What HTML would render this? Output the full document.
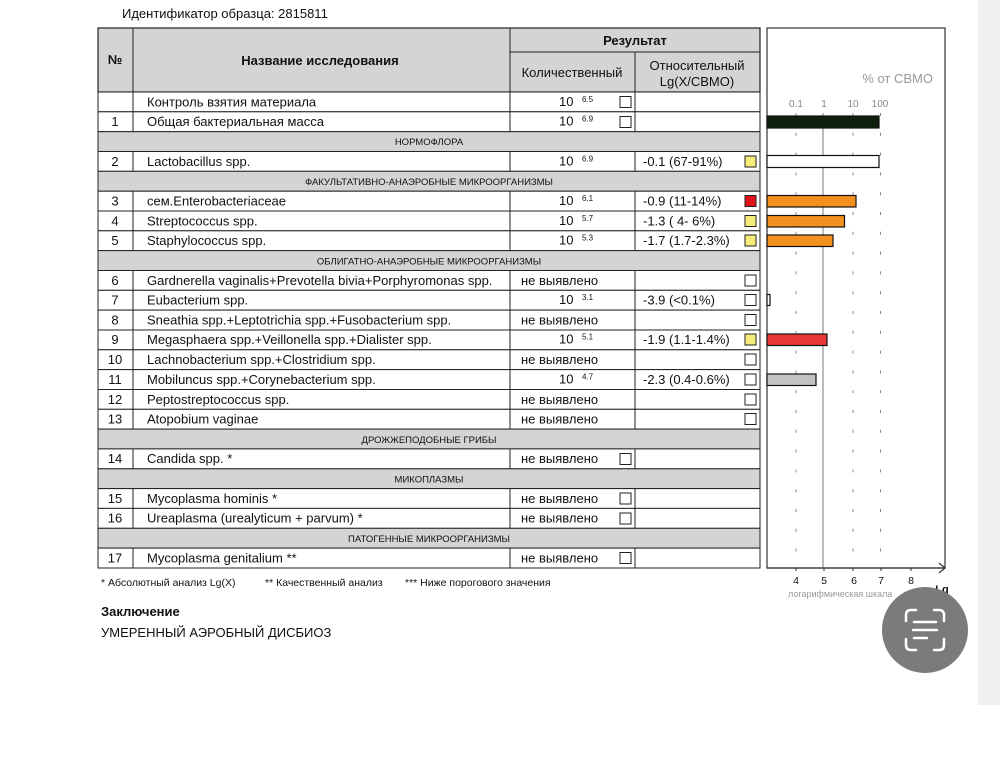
<!DOCTYPE html>
<html><head><meta charset="utf-8"><style>
html,body{margin:0;padding:0;background:#fff;width:1000px;height:757px;overflow:hidden}
svg{display:block}
text{font-family:"Liberation Sans",sans-serif;fill:#111}
.t{font-size:13px}
.s{font-size:9.5px;text-anchor:middle}
.p{font-size:8px}
.c{text-anchor:middle}
</style></head><body>
<svg width="1000" height="757" viewBox="0 0 1000 757" xmlns="http://www.w3.org/2000/svg">
<rect x="978" y="0" width="22" height="705" fill="#efeff2"/>
<text x="122" y="18" class="t">Идентификатор образца: 2815811</text>
<rect x="98" y="28" width="662" height="64" fill="#d4d4d4" stroke="#222" stroke-width="1.2"/>
<line x1="133" y1="28" x2="133" y2="92" stroke="#222"/>
<line x1="510" y1="28" x2="510" y2="92" stroke="#222"/>
<line x1="510" y1="52" x2="760" y2="52" stroke="#222"/>
<line x1="635" y1="52" x2="635" y2="92" stroke="#222"/>
<text x="115" y="64" class="t c" font-weight="bold">№</text>
<text x="320" y="65" class="t c" font-weight="bold">Название исследования</text>
<text x="635" y="45" class="t c" font-weight="bold">Результат</text>
<text x="572" y="77" class="t c">Количественный</text>
<text x="697" y="70" class="t c">Относительный</text>
<text x="697" y="86" class="t c">Lg(X/СВМО)</text>

<g stroke="#222" stroke-width="1" fill="#fff">
<rect x="98" y="92" width="662" height="19.8"/>
<rect x="98" y="111.8" width="662" height="19.9"/>
<rect x="98" y="131.7" width="662" height="19.8" fill="#d4d4d4"/>
<rect x="98" y="151.5" width="662" height="19.8"/>
<rect x="98" y="171.3" width="662" height="19.9" fill="#d4d4d4"/>
<rect x="98" y="191.2" width="662" height="19.8"/>
<rect x="98" y="211" width="662" height="19.8"/>
<rect x="98" y="230.8" width="662" height="19.8"/>
<rect x="98" y="250.6" width="662" height="19.9" fill="#d4d4d4"/>
<rect x="98" y="270.5" width="662" height="19.8"/>
<rect x="98" y="290.3" width="662" height="19.8"/>
<rect x="98" y="310.1" width="662" height="19.9"/>
<rect x="98" y="330" width="662" height="19.8"/>
<rect x="98" y="349.8" width="662" height="19.8"/>
<rect x="98" y="369.6" width="662" height="19.9"/>
<rect x="98" y="389.5" width="662" height="19.8"/>
<rect x="98" y="409.3" width="662" height="19.8"/>
<rect x="98" y="429.1" width="662" height="19.8" fill="#d4d4d4"/>
<rect x="98" y="448.9" width="662" height="19.9"/>
<rect x="98" y="468.8" width="662" height="19.8" fill="#d4d4d4"/>
<rect x="98" y="488.6" width="662" height="19.8"/>
<rect x="98" y="508.4" width="662" height="19.9"/>
<rect x="98" y="528.3" width="662" height="19.8" fill="#d4d4d4"/>
<rect x="98" y="548.1" width="662" height="19.9"/>
</g>
<g stroke="#222" stroke-width="1">
<path d="M133 92V131.7M510 92V131.7M635 92V131.7
M133 151.5V171.3M510 151.5V171.3M635 151.5V171.3
M133 191.2V250.6M510 191.2V250.6M635 191.2V250.6
M133 270.5V429.1M510 270.5V429.1M635 270.5V429.1
M133 448.9V468.8M510 448.9V468.8M635 448.9V468.8
M133 488.6V528.3M510 488.6V528.3M635 488.6V528.3
M133 548.1V568M510 548.1V568M635 548.1V568"/>
</g>

<text x="115" y="126" class="t c">1</text>
<text x="115" y="166" class="t c">2</text>
<text x="115" y="205.5" class="t c">3</text>
<text x="115" y="225.5" class="t c">4</text>
<text x="115" y="245" class="t c">5</text>
<text x="115" y="285" class="t c">6</text>
<text x="115" y="304.5" class="t c">7</text>
<text x="115" y="324.5" class="t c">8</text>
<text x="115" y="344" class="t c">9</text>
<text x="115" y="364" class="t c">10</text>
<text x="115" y="384" class="t c">11</text>
<text x="115" y="404" class="t c">12</text>
<text x="115" y="423.5" class="t c">13</text>
<text x="115" y="463" class="t c">14</text>
<text x="115" y="503" class="t c">15</text>
<text x="115" y="522.5" class="t c">16</text>
<text x="115" y="562.5" class="t c">17</text>

<text x="147" y="106.5" class="t">Контроль взятия материала</text>
<text x="147" y="126" class="t">Общая бактериальная масса</text>
<text x="147" y="166" class="t">Lactobacillus spp.</text>
<text x="147" y="205.5" class="t">сем.Enterobacteriaceae</text>
<text x="147" y="225.5" class="t">Streptococcus spp.</text>
<text x="147" y="245" class="t">Staphylococcus spp.</text>
<text x="147" y="285" class="t">Gardnerella vaginalis+Prevotella bivia+Porphyromonas spp.</text>
<text x="147" y="304.5" class="t">Eubacterium spp.</text>
<text x="147" y="324.5" class="t">Sneathia spp.+Leptotrichia spp.+Fusobacterium spp.</text>
<text x="147" y="344" class="t">Megasphaera spp.+Veillonella spp.+Dialister spp.</text>
<text x="147" y="364" class="t">Lachnobacterium spp.+Clostridium spp.</text>
<text x="147" y="384" class="t">Mobiluncus spp.+Corynebacterium spp.</text>
<text x="147" y="404" class="t">Peptostreptococcus spp.</text>
<text x="147" y="423.5" class="t">Atopobium vaginae</text>
<text x="147" y="463" class="t">Candida spp. *</text>
<text x="147" y="503" class="t">Mycoplasma hominis *</text>
<text x="147" y="522.5" class="t">Ureaplasma (urealyticum + parvum) *</text>
<text x="147" y="562.5" class="t">Mycoplasma genitalium **</text>

<text x="429" y="145" class="s">НОРМОФЛОРА</text>
<text x="429" y="185" class="s">ФАКУЛЬТАТИВНО-АНАЭРОБНЫЕ МИКРООРГАНИЗМЫ</text>
<text x="429" y="264.5" class="s">ОБЛИГАТНО-АНАЭРОБНЫЕ МИКРООРГАНИЗМЫ</text>
<text x="429" y="443" class="s">ДРОЖЖЕПОДОБНЫЕ ГРИБЫ</text>
<text x="429" y="482.5" class="s">МИКОПЛАЗМЫ</text>
<text x="429" y="542" class="s">ПАТОГЕННЫЕ МИКРООРГАНИЗМЫ</text>

<text x="559" y="106" class="t">10</text><text x="582" y="102" class="p">6.5</text>
<text x="559" y="125.5" class="t">10</text><text x="582" y="121.5" class="p">6.9</text>
<text x="559" y="165.5" class="t">10</text><text x="582" y="161.5" class="p">6.9</text>
<text x="559" y="205" class="t">10</text><text x="582" y="201" class="p">6.1</text>
<text x="559" y="225" class="t">10</text><text x="582" y="221" class="p">5.7</text>
<text x="559" y="244.5" class="t">10</text><text x="582" y="240.5" class="p">5.3</text>
<text x="521" y="285" class="t">не выявлено</text>
<text x="559" y="304" class="t">10</text><text x="582" y="300" class="p">3.1</text>
<text x="521" y="324.5" class="t">не выявлено</text>
<text x="559" y="343.5" class="t">10</text><text x="582" y="339.5" class="p">5.1</text>
<text x="521" y="364" class="t">не выявлено</text>
<text x="559" y="383.5" class="t">10</text><text x="582" y="379.5" class="p">4.7</text>
<text x="521" y="404" class="t">не выявлено</text>
<text x="521" y="423.5" class="t">не выявлено</text>
<text x="521" y="463" class="t">не выявлено</text>
<text x="521" y="503" class="t">не выявлено</text>
<text x="521" y="522.5" class="t">не выявлено</text>
<text x="521" y="562.5" class="t">не выявлено</text>

<text x="643" y="166" class="t">-0.1 (67-91%)</text>
<text x="643" y="205.5" class="t">-0.9 (11-14%)</text>
<text x="643" y="225.5" class="t">-1.3 ( 4- 6%)</text>
<text x="643" y="245" class="t">-1.7 (1.7-2.3%)</text>
<text x="643" y="304.5" class="t">-3.9 (&lt;0.1%)</text>
<text x="643" y="344" class="t">-1.9 (1.1-1.4%)</text>
<text x="643" y="384" class="t">-2.3 (0.4-0.6%)</text>

<g stroke="#222" stroke-width="1" fill="#fff">
<rect x="620" y="96.5" width="11" height="11"/>
<rect x="620" y="116.5" width="11" height="11"/>
<rect x="620" y="453.5" width="11" height="11"/>
<rect x="620" y="493" width="11" height="11"/>
<rect x="620" y="513" width="11" height="11"/>
<rect x="620" y="552.5" width="11" height="11"/>
<rect x="745" y="156" width="11" height="11" fill="#f5ec7a"/>
<rect x="745" y="195.5" width="11" height="11" fill="#e0141a"/>
<rect x="745" y="215.5" width="11" height="11" fill="#f5ec7a"/>
<rect x="745" y="235" width="11" height="11" fill="#f5ec7a"/>
<rect x="745" y="275" width="11" height="11"/>
<rect x="745" y="294.5" width="11" height="11"/>
<rect x="745" y="314.5" width="11" height="11"/>
<rect x="745" y="334" width="11" height="11" fill="#f5ec7a"/>
<rect x="745" y="354" width="11" height="11"/>
<rect x="745" y="374" width="11" height="11"/>
<rect x="745" y="394" width="11" height="11"/>
<rect x="745" y="413.5" width="11" height="11"/>
</g>

<rect x="767" y="28" width="178" height="540" fill="#fff" stroke="#333" stroke-width="1.2"/>
<text x="933" y="83" font-size="13" text-anchor="end" style="fill:#999">% от СВМО</text>
<g font-size="10" text-anchor="middle">
<text x="796" y="107" style="fill:#888">0.1</text><text x="824" y="107" style="fill:#888">1</text><text x="853" y="107" style="fill:#888">10</text><text x="880" y="107" style="fill:#888">100</text>
</g>
<g stroke="#888" stroke-width="1" stroke-dasharray="3,16.8">
<line x1="796" y1="113" x2="796" y2="566"/>
<line x1="853" y1="113" x2="853" y2="566"/>
<line x1="880.5" y1="113" x2="880.5" y2="566"/>
</g>
<line x1="823" y1="113" x2="823" y2="568" stroke="#777" stroke-width="1"/>
<g stroke="#111" stroke-width="1.2">
<rect x="767" y="116" width="112" height="12" fill="#0d1f0d"/>
<rect x="767" y="155.5" width="112" height="12" fill="#fff"/>
<rect x="767" y="195.5" width="89" height="11.5" fill="#f4901e"/>
<rect x="767" y="215.5" width="77.5" height="11.5" fill="#f4901e"/>
<rect x="767" y="235" width="66" height="11.5" fill="#f4901e"/>
<rect x="767" y="294.5" width="3" height="11" fill="#fff"/>
<rect x="767" y="334" width="60" height="11.5" fill="#e8383a"/>
<rect x="767" y="374" width="49" height="11.5" fill="#c2c2c2"/>
</g>
<line x1="767" y1="568" x2="945" y2="568" stroke="#333" stroke-width="1.2"/>
<path d="M939 563 L945 568 L939 573" fill="none" stroke="#333" stroke-width="1.2"/>
<g stroke="#333"><line x1="796" y1="568" x2="796" y2="571"/><line x1="824" y1="568" x2="824" y2="571"/><line x1="853" y1="568" x2="853" y2="571"/><line x1="881" y1="568" x2="881" y2="571"/><line x1="911" y1="568" x2="911" y2="571"/></g>
<g font-size="10.5" text-anchor="middle">
<text x="796" y="584">4</text><text x="824" y="584">5</text><text x="854" y="584">6</text><text x="881" y="584">7</text><text x="911" y="584">8</text>
</g>
<text x="942" y="593" font-size="11" font-weight="bold" text-anchor="middle">Lg</text>
<text x="788" y="597" font-size="9" style="fill:#999">логарифмическая шкала</text>

<text x="101" y="586" font-size="10.5">*  Абсолютный анализ Lg(X)</text>
<text x="265" y="586" font-size="10.5">** Качественный анализ</text>
<text x="405" y="586" font-size="10.5">*** Ниже порогового значения</text>
<text x="101" y="616" font-size="13" font-weight="bold">Заключение</text>
<text x="101" y="637" class="t">УМЕРЕННЫЙ АЭРОБНЫЙ ДИСБИОЗ</text>

<circle cx="925" cy="630" r="43" fill="#7b7b7b"/>
<g stroke="#fff" stroke-width="2.5" fill="none" stroke-linecap="round">
<path d="M906 621V615Q906 610 911 610H916M934 610H939Q944 610 944 615V621M944 639V645Q944 650 939 650H934M916 650H911Q906 650 906 645V639"/>
<path d="M914 622H936M913 630H937M914 638H927"/>
</g>
</svg>
</body></html>
